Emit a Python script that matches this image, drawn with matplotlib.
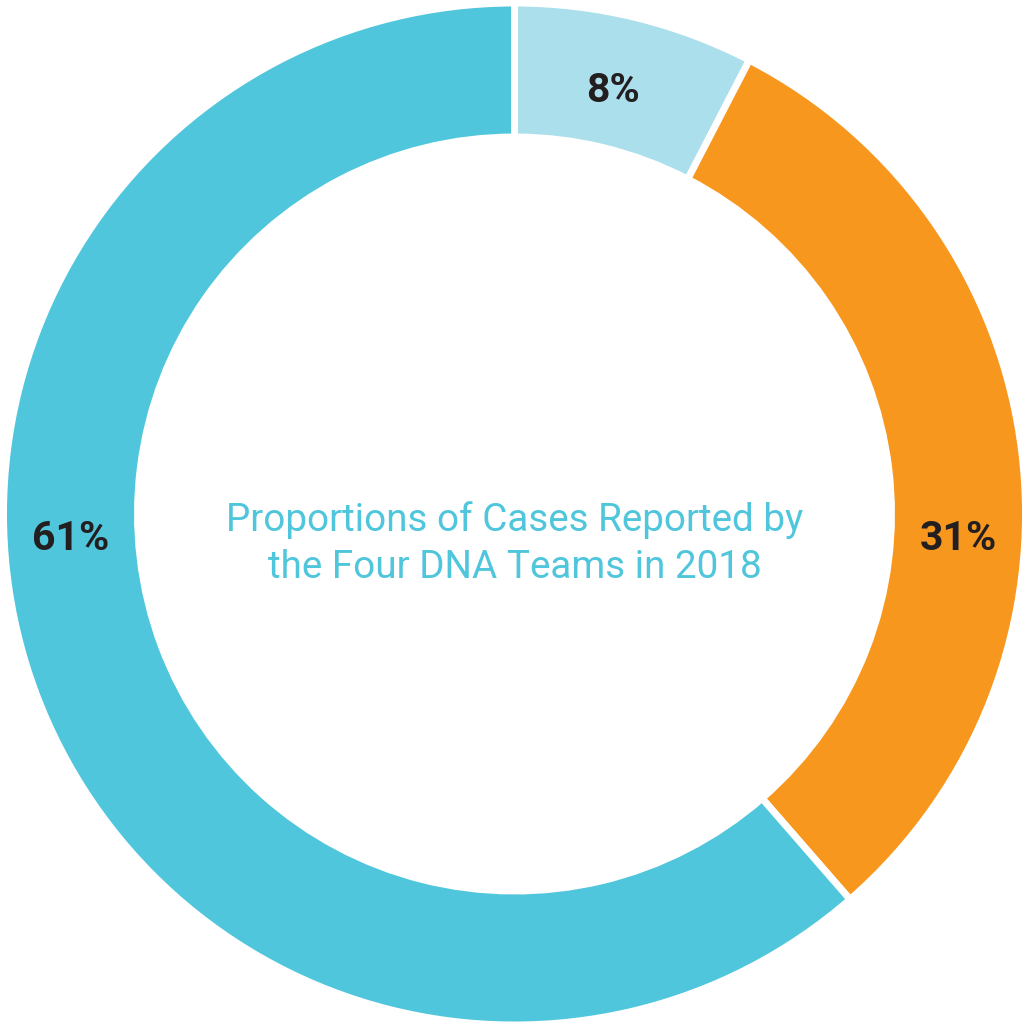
import matplotlib
matplotlib.use("Agg")
import matplotlib.pyplot as plt
import numpy as np

categories = ["Team A", "Team B", "Team C"]
values = [7.6, 31.0, 61.4]
labels = ["8%", "31%", "61%"]
colors = ["#ABDFEC", "#F7971E", "#4FC6DC"]
title_lines = ["Proportions of Cases Reported by", "the Four DNA Teams in 2018"]

W, H = 1025, 1027
fig = plt.figure(figsize=(W / 100, H / 100), dpi=100)
ax = fig.add_axes([0, 0, 1, 1])
R = 511.0
cx, cy = 514.5, 514.0

width = 1 - 377 / 511
wedges, _ = ax.pie(values, colors=colors, startangle=90, counterclock=False,
                   radius=1.0, wedgeprops=dict(width=width, edgecolor="white", linewidth=5))
ax.set_xlim(-cx / R, (W - cx) / R)
ax.set_ylim(-(H - cy) / R, cy / R)
ax.set_aspect("equal")
ax.axis("off")

# label placement (angle in degrees, radial fraction)
label_angles = [77.0, -2.8, 182.8]
label_radii = [0.855, 0.869, 0.869]
for a, r, lab in zip(label_angles, label_radii, labels):
    x = r * np.cos(np.deg2rad(a))
    y = r * np.sin(np.deg2rad(a)) - 0.006
    ax.text(x, y, lab, ha="center", va="center", fontsize=29.5, fontweight="bold",
            color="#231F20", family="Roboto")

ax.text(0, -0.058, "\n".join(title_lines), ha="center", va="center", fontsize=27.8,
        color="#4FC6DC", family="Roboto", linespacing=1.37)

fig.savefig("out.png", dpi=100, facecolor="white")
